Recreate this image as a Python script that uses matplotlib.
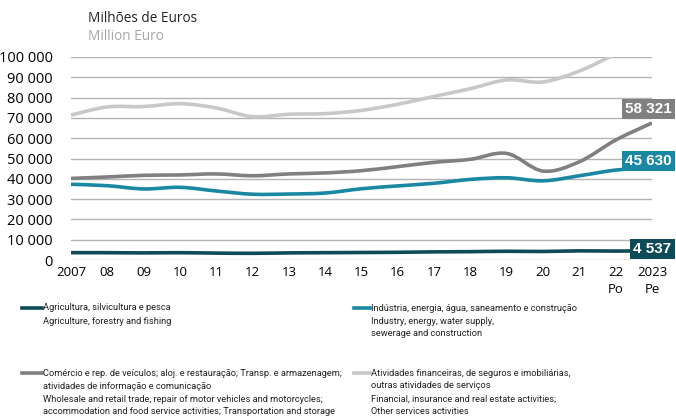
import matplotlib
matplotlib.use("Agg")
import matplotlib.pyplot as plt
from matplotlib.path import Path
from matplotlib.patches import PathPatch
from matplotlib.lines import Line2D
import numpy as np

years = list(range(2007, 2024))
tick_labels = ["2007", "08", "09", "10", "11", "12", "13", "14", "15", "16",
               "17", "18", "19", "20", "21", "22\nPo", "2023\nPe"]

agriculture = [3600, 3600, 3500, 3600, 3400, 3300, 3500, 3600, 3700, 3800,
               4000, 4100, 4300, 4200, 4500, 4400, 4537]
industry = [37300, 36600, 35000, 35800, 34000, 32400, 32500, 33000, 35100, 36500,
            37800, 39700, 40500, 39000, 41500, 44300, 45630]
trade = [40200, 40900, 41700, 41900, 42400, 41500, 42400, 42900, 44000, 46000,
         48100, 49600, 52500, 43800, 48400, 59100, 67500]
financial = [71400, 75400, 75600, 77000, 74900, 70600, 71800, 72100, 73700, 76700,
             80600, 84400, 88700, 87700, 93100, 101500, 110000]

end_labels = ["4 537", "45 630", "58 321", None]
label_dy = [1, 4.5, 10, 0]  # vertical offsets of end labels, points

col_agri = "#0d4b58"
col_ind = "#1a88a2"
col_trade = "#808080"
col_fin = "#c8c8c8"

series = [
    (agriculture, col_agri),
    (industry, col_ind),
    (trade, col_trade),
    (financial, col_fin),
]

fig = plt.figure(figsize=(6.76, 4.17), dpi=100)
ax = fig.add_axes([71/676, 1-260/417, (652-71)/676, (260-57)/417])
ax.set_xlim(2007, 2023)
ax.set_ylim(0, 100000)
for s in ax.spines.values():
    s.set_visible(False)

yt = list(range(0, 100001, 10000))
ax.set_yticks(yt)
ax.set_yticklabels([f"{v:,}".replace(",", " ") for v in yt], fontsize=10.5,
                   family="Open Sans", color="#000000")
ax.set_xticks(years)
ax.set_xticklabels(tick_labels, fontsize=9.5, family="Open Sans", linespacing=1.45,
                   va="top")
ax.tick_params(length=0, pad=4)
ax.tick_params(axis="y", pad=13)
ax.grid(axis="y", color="#b4b4b4", linewidth=1.0)
ax.set_axisbelow(True)


def smooth_path(x, y):
    x = np.asarray(x, float)
    y = np.asarray(y, float)
    n = len(x)
    verts = [(x[0], y[0])]
    codes = [Path.MOVETO]
    for i in range(n - 1):
        p0 = np.array([x[max(i-1, 0)], y[max(i-1, 0)]])
        p1 = np.array([x[i], y[i]])
        p2 = np.array([x[i+1], y[i+1]])
        p3 = np.array([x[min(i+2, n-1)], y[min(i+2, n-1)]])
        c1 = p1 + (p2 - p0) / 6.0
        c2 = p2 - (p3 - p1) / 6.0
        verts += [tuple(c1), tuple(c2), tuple(p2)]
        codes += [Path.CURVE4] * 3
    return Path(verts, codes)


for vals, col in reversed(series):
    patch = PathPatch(smooth_path(years, vals), facecolor="none", edgecolor=col,
                      linewidth=2.6, capstyle="butt", joinstyle="round", zorder=3)
    ax.add_patch(patch)

# end labels
for (vals, col), lab, dy in zip(series, end_labels, label_dy):
    if lab is None:
        continue
    ax.annotate(lab, xy=(years[-1], vals[-1]), xytext=(14, dy),
                textcoords="offset points", ha="right", va="center",
                fontsize=11, fontweight="bold", color="white", family="Liberation Sans",
                bbox=dict(boxstyle="square,pad=0.2", facecolor=col, edgecolor="none"),
                zorder=5, annotation_clip=False)

# titles
fig.text(88/676, 1-18/417, "Milhões de Euros", fontsize=9.8, family="Open Sans",
         color="#222222", va="center", ha="left")
fig.text(88/676, 1-37/417, "Million Euro", fontsize=9.8, family="Open Sans",
         color="#a6a6a6", va="center", ha="left")

# legend
legend_entries = [
    (22, 42, 308, col_agri, ["Agricultura, silvicultura e pesca",
                             "Agriculture, forestry and fishing"]),
    (354, 370, 308, col_ind, ["Indústria, energia, água, saneamento e construção",
                              "Industry, energy, water supply,",
                              "sewerage and construction"]),
    (22, 42, 373, col_trade, ["Comércio e rep. de veículos; aloj. e restauração; Transp. e armazenagem;",
                              "atividades de informação e comunicação",
                              "Wholesale and retail trade, repair of motor vehicles and motorcycles;",
                              "accommodation and food service activities; Transportation and storage"]),
    (354, 370, 373, col_fin, ["Atividades financeiras, de seguros e imobiliárias,",
                              "outras atividades de serviços",
                              "Financial, insurance and real estate activities;",
                              "Other services activities"]),
]
for x0, x1, y0, col, lines in legend_entries:
    fig.add_artist(Line2D([x0/676, x1/676], [1-y0/417, 1-y0/417], color=col,
                          linewidth=2.6, transform=fig.transFigure))
    for k, t in enumerate(lines):
        fig.text((x1+1)/676, 1-(y0+13*k)/417, t, fontsize=6.7,
                 family="Roboto", color="#222222", va="center", ha="left")

fig.savefig("out.png", dpi=100)
